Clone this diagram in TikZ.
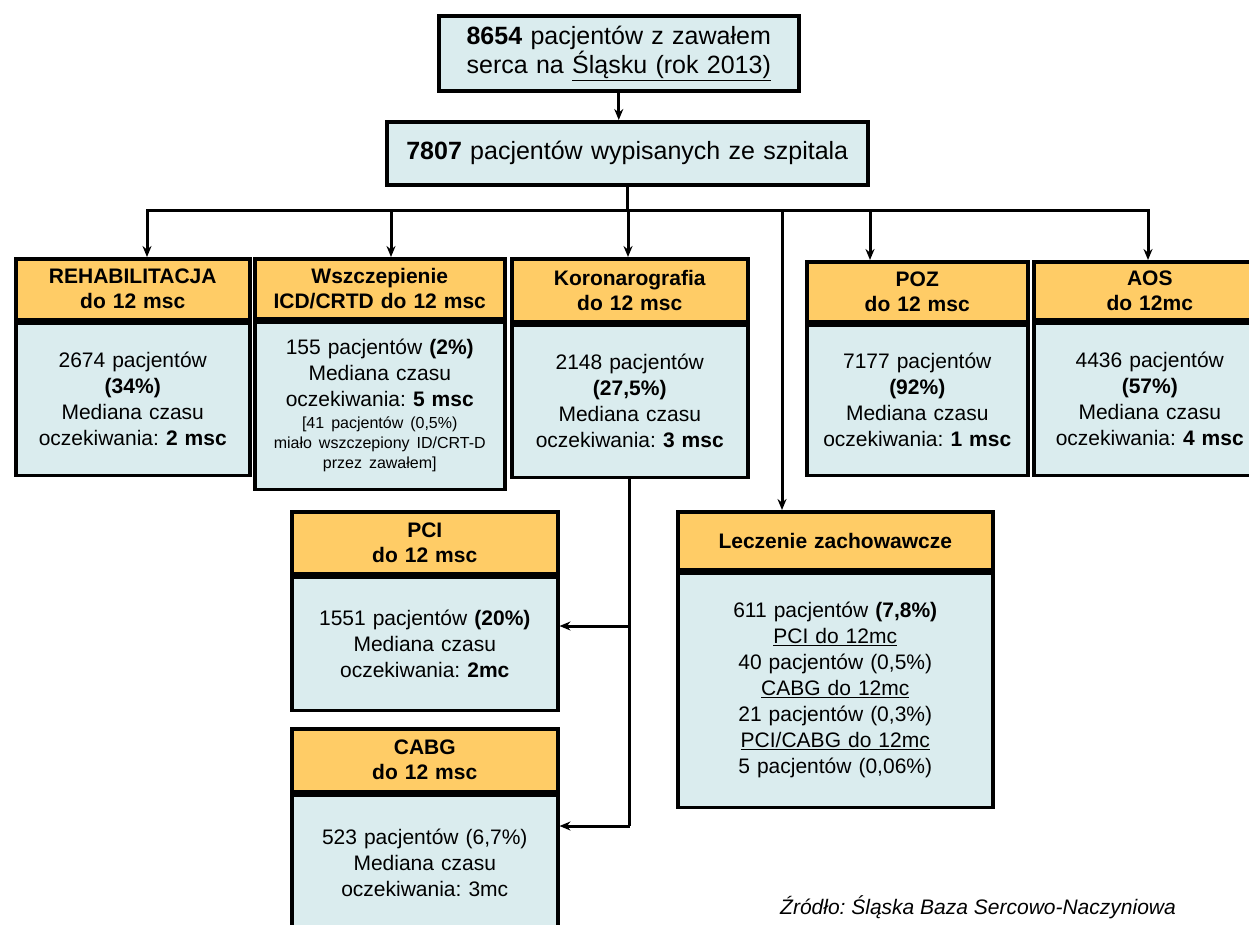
\documentclass[tikz,border=0pt]{standalone}
\usepackage{fontspec}
\setmainfont{Liberation Sans}
\usetikzlibrary{positioning,arrows.meta}
\definecolor{hdrfill}{RGB}{255,204,102}
\definecolor{bdyfill}{RGB}{218,236,238}
\frenchspacing

\begin{document}
\begin{tikzpicture}[x=1pt, y=-1pt, >={Stealth[length=11pt,width=9pt]}, line width=3pt,
	frame/.style={draw, line width=3.5pt, align=center, inner xsep=0pt, inner ysep=3pt},
	topbox/.style={frame, fill=bdyfill, font=\fontsize{25}{29}\selectfont, anchor=north west},
	hdr/.style={frame, fill=hdrfill, font=\bfseries\fontsize{21}{25}\selectfont, anchor=north west},
	bdy/.style={frame, fill=bdyfill, font=\fontsize{21}{26}\selectfont, below=0pt of #1}]
				\useasboundingbox (0,0) rectangle (1249,924);
				
				% 1. górne pola
				\node[topbox, text width=360, minimum height=75] (pat) at (437,14)
					{\textbf{8654} pacjentów z zawałem\\serca na \underline{Śląsku (rok 2013)}};
				\node[topbox, text width=481, minimum height=63] (disch) at (385,120)
					{\textbf{7807} pacjentów wypisanych ze szpitala};
				
				% 2. pierwszy rząd
				\node[hdr, text width=234, minimum height=61] (rehabH) at (14,257) {REHABILITACJA\\do 12 msc};
				\node[bdy=rehabH, text width=234, minimum height=152] (rehabB)
					{2674 pacjentów\\\textbf{(34\%)}\\Mediana czasu\\oczekiwania: \textbf{2 msc}};
				
				\node[hdr, text width=250, minimum height=60] (icdH) at (253,257) {Wszczepienie\\ICD/CRTD do 12 msc};
				\node[bdy=icdH, text width=250, minimum height=167,
					font=\fontsize{21}{20}\selectfont] (icdB)
					{155 pacjentów \textbf{(2\%)}\\[6pt]Mediana czasu\\[6pt]oczekiwania: \textbf{5 msc}\\[2pt]
					\fontsize{16}{20}\selectfont [41 pacjentów (0,5\%)\\miało wszczepiony ID/CRT-D\\przez zawałem]};
				
				\node[hdr, text width=236, minimum height=63] (koroH) at (510,257) {Koronarografia\\do 12 msc};
				\node[bdy=koroH, text width=236, minimum height=152] (koroB)
					{2148 pacjentów\\\textbf{(27,5\%)}\\Mediana czasu\\oczekiwania: \textbf{3 msc}};
				
				\node[hdr, text width=221, minimum height=60] (pozH) at (805,260) {POZ\\do 12 msc};
				\node[bdy=pozH, text width=221, minimum height=150] (pozB)
					{7177 pacjentów\\\textbf{(92\%)}\\Mediana czasu\\oczekiwania: \textbf{1 msc}};
				
				\node[hdr, text width=232, minimum height=58] (aosH) at (1032,260) {AOS\\do 12mc};
				\node[bdy=aosH, text width=232, minimum height=152] (aosB)
					{4436 pacjentów\\\textbf{(57\%)}\\Mediana czasu\\oczekiwania: \textbf{4 msc}};
				
				% 3. drugi rząd
				\node[hdr, text width=266, minimum height=62] (pciH) at (290,510) {PCI\\do 12 msc};
				\node[bdy=pciH, text width=266, minimum height=133] (pciB)
					{1551 pacjentów \textbf{(20\%)}\\Mediana czasu\\oczekiwania: \textbf{2mc}};
				
				\node[hdr, text width=266, minimum height=63] (cabgH) at (290,727) {CABG\\do 12 msc};
				\node[bdy=cabgH, text width=266, minimum height=136] (cabgB)
					{523 pacjentów (6,7\%)\\Mediana czasu\\oczekiwania: 3mc};
				
				\node[hdr, text width=315, minimum height=58] (leczH) at (676,510) {Leczenie zachowawcze};
				\node[bdy=leczH, text width=315, minimum height=234] (leczB)
					{611 pacjentów \textbf{(7,8\%)}\\\underline{PCI do 12mc}\\40 pacjentów (0,5\%)\\\underline{CABG do 12mc}\\21 pacjentów (0,3\%)\\\underline{PCI/CABG do 12mc}\\5 pacjentów (0,06\%)};
				
				\node[font=\itshape\fontsize{21}{25}\selectfont] (src) at (978,907) {Źródło: Śląska Baza Sercowo-Naczyniowa};
				
				% 4. połączenia
				\draw[->] (pat.south) -- (pat.south |- disch.north);
				\draw (disch.south) -- (disch.south |- 0,210) coordinate (bus);
				\coordinate (busL) at (147,210);
				\coordinate (busR) at (1148,210);
				\draw[line cap=rect] (busL) -- (busR);
				\foreach \x/\n in {147/rehabH, 391/icdH, 628/koroH, 870/pozH, 1148/aosH}
					\draw[->] (\x,210) -- (\x,0 |- \n.north);
				\draw[->] (782,210) -- (782,0 |- leczH.north);
				
				\draw (koroB.south) -- (koroB.south |- 0,826) coordinate (kend);
				\draw[->] (koroB.south |- 0,626) -- (pciB.east |- 0,626);
				\draw[->] (kend) -- (cabgB.east |- kend);
			\end{tikzpicture}
\end{document}
